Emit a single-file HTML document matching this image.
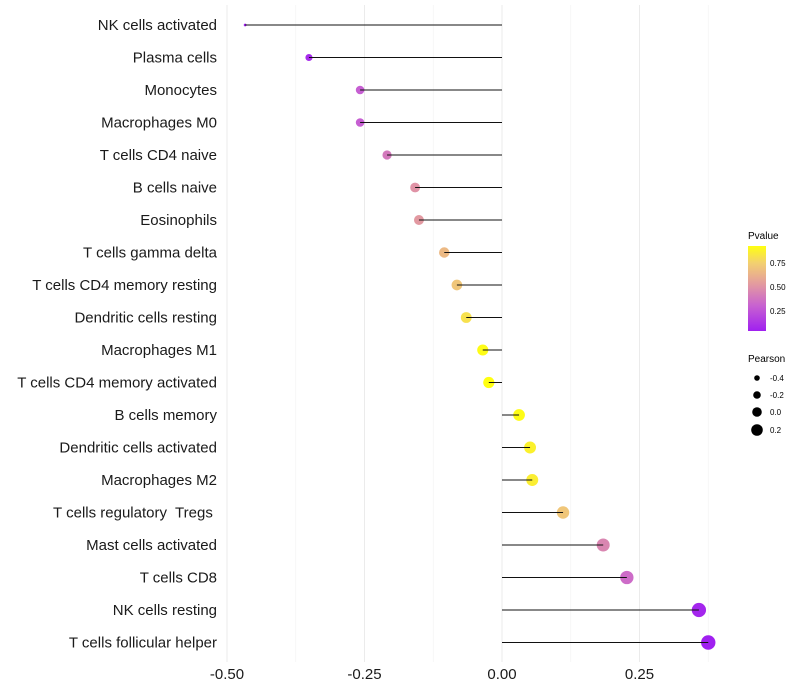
<!DOCTYPE html>
<html><head><meta charset="utf-8"><style>
body{margin:0;background:#fff;}
svg{display:block;font-family:"Liberation Sans",sans-serif;}
text{white-space:pre;}
</style></head><body>
<svg id="chart" width="800" height="700">
<defs><linearGradient id="pg" x1="0" y1="1" x2="0" y2="0">
<stop offset="0" stop-color="#a020f0"/><stop offset="0.3" stop-color="#c862d0"/><stop offset="0.55" stop-color="#e39aa0"/><stop offset="0.8" stop-color="#f3d070"/><stop offset="1" stop-color="#ffff10"/>
</linearGradient></defs>
<g id="grid"></g>
<g id="marks"></g>
<g id="ylabels"></g>
<g id="xlabels"></g>
<g>
<text x="748" y="239" font-size="10">Pvalue</text>
<rect x="748" y="246" width="18" height="85" fill="url(#pg)"/>
<text x="770" y="266" font-size="8">0.75</text>
<text x="770" y="290" font-size="8">0.50</text>
<text x="770" y="314" font-size="8">0.25</text>
</g>
<g>
<text x="748" y="362" font-size="10">Pearson</text>
<circle cx="757" cy="378" r="2.8"/>
<text x="770" y="381" font-size="8">-0.4</text>
<circle cx="757" cy="395" r="3.8"/>
<text x="770" y="398" font-size="8">-0.2</text>
<circle cx="757" cy="412" r="4.8"/>
<text x="770" y="415" font-size="8">0.0</text>
<circle cx="757" cy="430" r="5.8"/>
<text x="770" y="433" font-size="8">0.2</text>
</g>
</svg>
<script>
const categories=["NK cells activated","Plasma cells","Monocytes","Macrophages M0","T cells CD4 naive","B cells naive","Eosinophils","T cells gamma delta","T cells CD4 memory resting","Dendritic cells resting","Macrophages M1","T cells CD4 memory activated","B cells memory","Dendritic cells activated","Macrophages M2","T cells regulatory  Tregs ","Mast cells activated","T cells CD8","NK cells resting","T cells follicular helper"];
const pearson=[-0.467,-0.351,-0.258,-0.258,-0.209,-0.158,-0.151,-0.105,-0.082,-0.065,-0.035,-0.024,0.031,0.051,0.055,0.111,0.184,0.227,0.358,0.375];
const pvalues=[0.05,0.1,0.3,0.3,0.4,0.5,0.52,0.65,0.7,0.8,0.9,0.95,0.9,0.86,0.85,0.7,0.45,0.35,0.08,0.05];
const xTicks=[-0.5,-0.25,0,0.25];
const xTickLabels=["-0.50","-0.25","0.00","0.25"];
const NS="http://www.w3.org/2000/svg";
const x=v=>502+v*550;
const y=i=>25+i*32.5;
const stops=[[0,[160,32,240]],[0.3,[200,98,208]],[0.55,[227,154,160]],[0.8,[243,208,112]],[1,[255,255,16]]];
function col(p){let t=Math.max(0,Math.min(1,(p-0.056)/(0.91-0.056)));for(let k=1;k<stops.length;k++){if(t<=stops[k][0]){const a=stops[k-1],b=stops[k];const f=(t-a[0])/(b[0]-a[0]);return "rgb("+a[1].map((c,j)=>Math.round(c+(b[1][j]-c)*f)).join(",")+")";}}return "rgb(255,255,16)";}
const rad=v=>1.4+5.8*Math.sqrt(Math.max(0,(v+0.467)/0.842));
function mk(tag,attrs,parent){const e=document.createElementNS(NS,tag);for(const k in attrs)e.setAttribute(k,attrs[k]);document.getElementById(parent).appendChild(e);return e;}
for(let v=-0.5;v<=0.375+1e-9;v+=0.125){const g=mk("line",{x1:x(v),x2:x(v),y1:5,y2:662,stroke:Math.abs((v*4)%1)<1e-6?"#ebebeb":"#f4f4f4","stroke-width":Math.abs((v*4)%1)<1e-6?1:0.7},"grid");

}
categories.forEach((c,i)=>{
const cc=mk("circle",{cx:x(pearson[i]),cy:y(i),r:rad(pearson[i]),fill:col(pvalues[i])},"marks");


const l=mk("line",{x1:x(0),x2:x(pearson[i]),y1:y(i),y2:y(i),stroke:"#111","stroke-width":1},"marks");


const t=mk("text",{x:217,y:y(i)+5,"text-anchor":"end","font-size":15,fill:"#1a1a1a"},"ylabels");
t.textContent=c;


});
xTicks.forEach((v,i)=>{const t=mk("text",{x:x(v),y:679,"text-anchor":"middle","font-size":15,fill:"#1a1a1a"},"xlabels");t.textContent=xTickLabels[i];

});
</script>
</body></html>
